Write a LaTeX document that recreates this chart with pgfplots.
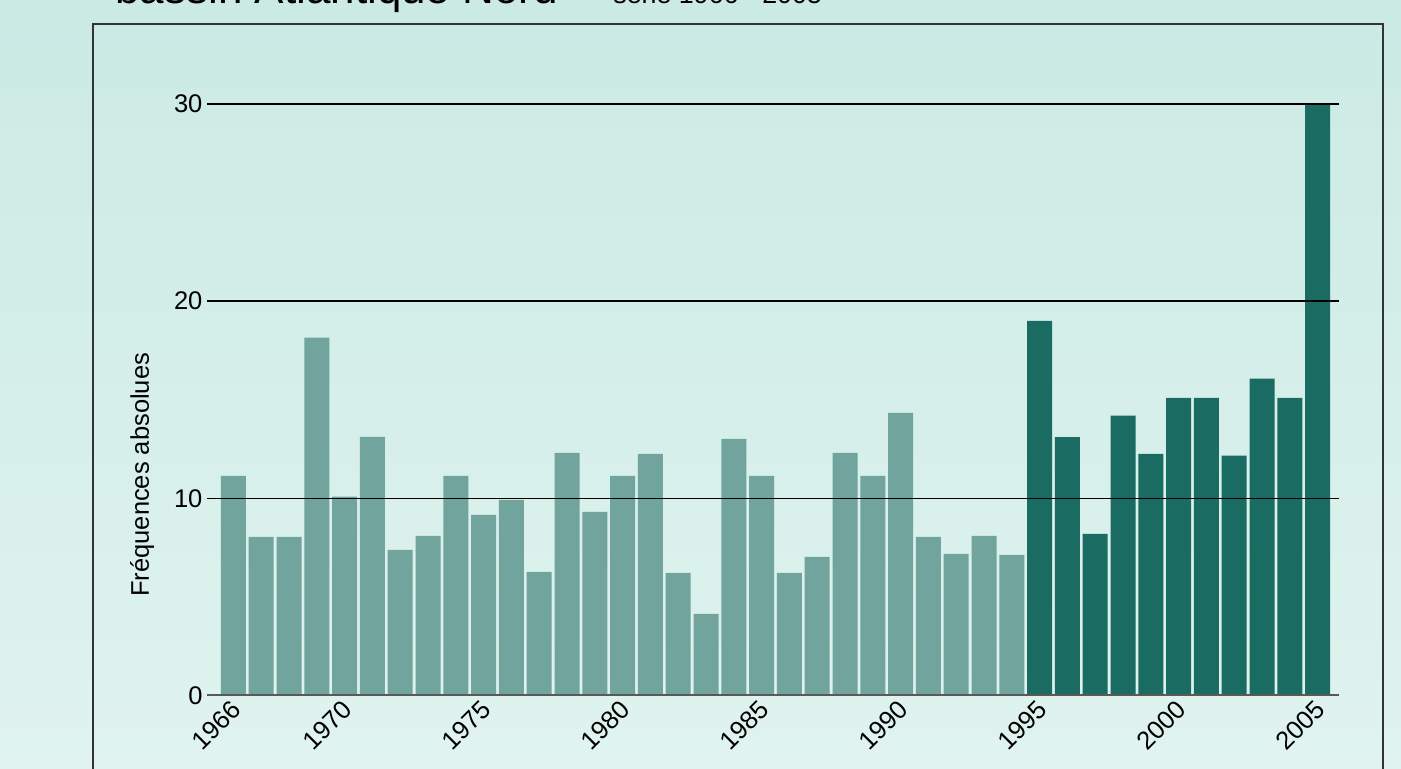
\documentclass[border=0pt]{standalone}
\usepackage{fontspec}
\setmainfont{Liberation Sans}
\usepackage{pgfplots}
\pgfplotsset{compat=1.18}
\definecolor{lightbar}{HTML}{70A49C}
\definecolor{darkbar}{HTML}{1A6C62}
\definecolor{bgtop}{HTML}{CBEAE4}
\definecolor{bgbot}{HTML}{E0F3EF}
\begin{document}
\begin{tikzpicture}[x=0.5pt,y=0.5pt]
\clip (0,0) rectangle (1401,769);
\shade[top color=bgtop, bottom color=bgbot] (0,0) rectangle (1401,769);
\draw[line width=1pt, draw=black!80] (93,-10) -- (93,745) -- (1383,745) -- (1383,-10);
\node[anchor=base west, inner sep=0pt, font=\fontsize{22}{26}\selectfont] at (115,765) {bassin Atlantique Nord};
\node[anchor=base west, inner sep=0pt, font=\fontsize{13.4}{16}\selectfont] at (613,765) {série 1966 - 2005};
\begin{axis}[
  at={(103.5pt,36.75pt)}, anchor=south west,
  scale only axis, width=566pt, height=295.75pt,
  xmin=1965.05, xmax=2005.77, ymin=0, ymax=30,
  axis x line=bottom, axis y line=left,
  x axis line style={draw=black!65, line width=1pt, -},
  y axis line style={draw=none},
  major tick length=0pt,
  ytick={0,10,20,30},
  ymajorgrids, grid style={black, line width=0.75pt},
  axis on top=true,
  xtick={1966,1970,1975,1980,1985,1990,1995,2000,2005},
  xticklabels={1966,1970,1975,1980,1985,1990,1995,2000,2005},
  /pgf/number format/assume math mode=true,
  ticklabel style={font=\fontsize{12.75}{15}\selectfont},
  yticklabel style={xshift=1.25pt},
  xticklabel style={rotate=45, anchor=east, xshift=1.1pt, yshift=-4.6pt},
  ylabel={Fréquences absolues},
  ylabel style={at={(axis description cs:-0.0574,0.373)}, anchor=center, font=\fontsize{12.75}{15}\selectfont},
  clip=false,
]
\addplot[ybar, bar width=0.9, bar shift=0pt, fill=lightbar, draw=none] coordinates {
(1966,11.14) (1967,8.05) (1968,8.05) (1969,18.15) (1970,10.08) (1971,13.12)
(1972,7.39) (1973,8.1) (1974,11.14) (1975,9.16) (1976,9.92) (1977,6.27)
(1978,12.31) (1979,9.31) (1980,11.14) (1981,12.26) (1982,6.22) (1983,4.14)
(1984,13.02) (1985,11.14) (1986,6.22) (1987,7.03) (1988,12.31) (1989,11.14)
(1990,14.34) (1991,8.05) (1992,7.18) (1993,8.1) (1994,7.13)
};
\addplot[ybar, bar width=0.9, bar shift=0pt, fill=darkbar, draw=none] coordinates {
(1995,19.0) (1996,13.1) (1997,8.2) (1998,14.2) (1999,12.26) (2000,15.1)
(2001,15.1) (2002,12.16) (2003,16.07) (2004,15.1) (2005,30)
};
\end{axis}
\end{tikzpicture}
\end{document}
